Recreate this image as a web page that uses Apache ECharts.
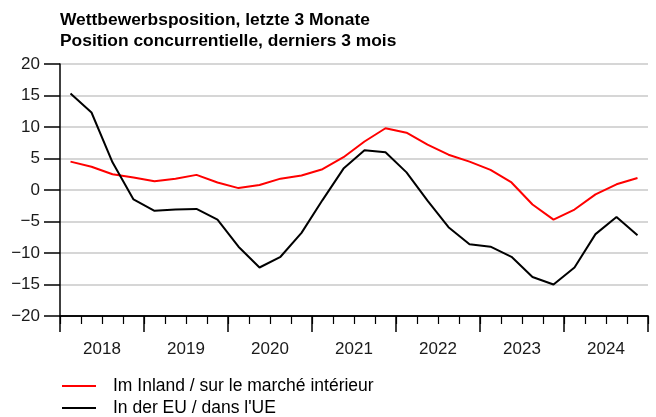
<!DOCTYPE html>
<html>
<head>
<meta charset="utf-8">
<script src="https://cdn.jsdelivr.net/npm/echarts@6/dist/echarts.min.js"></script>
<style>
  html, body { margin: 0; padding: 0; background: #fff; }
  #chart { width: 656px; height: 417px; }
</style>
</head>
<body>
<div id="chart"></div>
<script>
// Quartale 2018 Q1 .. 2024 Q4
const years = ['2018', '2019', '2020', '2021', '2022', '2023', '2024']
const quarters = []
years.forEach(y => { for (let q = 1; q <= 4; q++) quarters.push(y + 'Q' + q) })

// Im Inland / sur le marché intérieur
const inland = [
  4.5, 3.7, 2.5, 2.0, 1.4, 1.8, 2.4, 1.2,
  0.3, 0.8, 1.8, 2.3, 3.3, 5.2, 7.7, 9.8,
  9.1, 7.2, 5.6, 4.5, 3.2, 1.2, -2.3, -4.7,
  -3.1, -0.7, 0.9, 1.9
]

// In der EU / dans l'UE
const eu = [
  15.3, 12.3, 4.4, -1.5, -3.3, -3.1, -3.0, -4.7,
  -9.0, -12.3, -10.6, -6.8, -1.6, 3.4, 6.3, 6.0,
  2.8, -1.7, -5.9, -8.6, -9.0, -10.6, -13.8, -15.0,
  -12.3, -7.0, -4.3, -7.2
]

const seriesNames = ['Im Inland / sur le marché intérieur', "In der EU / dans l'UE"]
const yTicks = { min: -20, max: 20, step: 5 }

const font = 'Liberation Sans, Arial, sans-serif'
const chart = echarts.init(document.getElementById('chart'))

// eine Legende pro Zeile
const legendRow = (name, top) => ({
  orient: 'horizontal',
  left: 62,
  top: top,
  padding: 0,
  itemWidth: 34,
  itemHeight: 2,
  icon: 'rect',
  textStyle: { fontFamily: font, fontSize: 17.5, color: '#000', lineHeight: 18, padding: [0, 0, 0, 12] },
  data: [name]
})

chart.setOption({
  animation: false,
  backgroundColor: '#fff',
  textStyle: { fontFamily: font },
  title: {
    text: 'Wettbewerbsposition, letzte 3 Monate\nPosition concurrentielle, derniers 3 mois',
    left: 60,
    top: 10,
    padding: 0,
    textStyle: {
      fontFamily: font,
      fontSize: 17.4,
      fontWeight: 'bold',
      lineHeight: 21,
      color: '#000'
    }
  },
  legend: [legendRow(seriesNames[0], 377), legendRow(seriesNames[1], 399)],
  grid: { left: 60, right: 8, top: 64, bottom: 101 },
  xAxis: [
    {
      type: 'category',
      data: quarters,
      boundaryGap: true,
      position: 'bottom',
      axisLine: { onZero: false, lineStyle: { color: '#000', width: 1.5 } },
      axisTick: { show: true, interval: 0, length: 8, lineStyle: { color: '#000', width: 1.2 } },
      axisLabel: { show: false },
      splitLine: { show: false }
    },
    {
      type: 'category',
      data: years,
      boundaryGap: true,
      position: 'bottom',
      offset: 0,
      axisLine: { show: true, onZero: false, lineStyle: { color: '#000', width: 1.5 } },
      axisTick: { show: true, interval: 0, length: 16, lineStyle: { color: '#000', width: 1.5 } },
      axisLabel: { interval: 0, fontSize: 17, color: '#1a1a1a', margin: 25 },
      splitLine: { show: false }
    }
  ],
  yAxis: {
    type: 'value',
    min: yTicks.min,
    max: yTicks.max,
    interval: yTicks.step,
    axisLine: { show: true, lineStyle: { color: '#000', width: 1.5 } },
    axisTick: { show: true, length: 16, lineStyle: { color: '#000', width: 1.5 } },
    axisLabel: {
      fontSize: 17,
      color: '#1a1a1a',
      margin: 20,
      formatter: v => (v < 0 ? '\u2212' + Math.abs(v) : String(v))
    },
    splitLine: { show: true, lineStyle: { color: '#c8c8c8', width: 1.5 } }
  },
  series: [
    {
      name: seriesNames[0],
      type: 'line',
      xAxisIndex: 0,
      data: inland,
      symbol: 'none',
      lineStyle: { color: '#ff0000', width: 2 },
      itemStyle: { color: '#ff0000' }
    },
    {
      name: seriesNames[1],
      type: 'line',
      xAxisIndex: 0,
      data: eu,
      symbol: 'none',
      lineStyle: { color: '#000', width: 2 },
      itemStyle: { color: '#000' }
    }
  ]
})
</script>
</body>
</html>
